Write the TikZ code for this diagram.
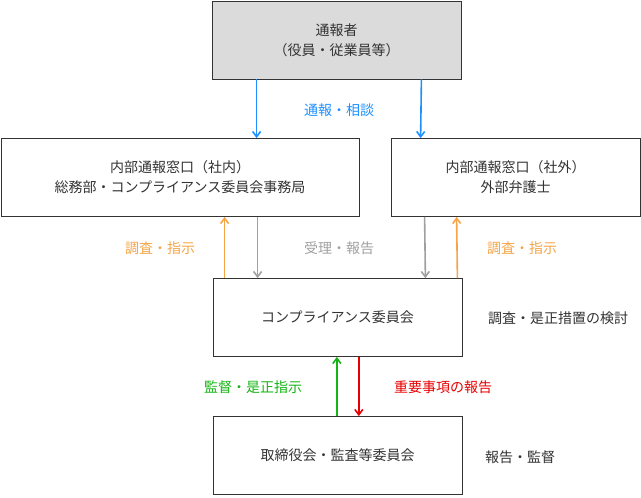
\documentclass[tikz,border=0pt]{standalone}
\usepackage{fontspec}
\setmainfont{Noto Sans CJK JP}
\usetikzlibrary{arrows.meta,positioning}
\definecolor{flowblue}{RGB}{30,144,255}
\definecolor{flowgray}{RGB}{160,160,160}
\definecolor{floworange}{RGB}{245,165,70}
\definecolor{flowgreen}{RGB}{20,180,20}
\definecolor{flowred}{RGB}{230,0,0}
\definecolor{textdark}{RGB}{51,51,51}
\begin{document}
\begin{tikzpicture}[
    x=0.75pt, y=-0.75pt,
    every node/.style={font=\fontsize{10.5}{15}\selectfont, text=textdark},
    box/.style={
        draw=textdark,
        fill=white,
        line width=0.6pt,
        minimum height=58.5pt,
        align=center,
        inner sep=0pt
    },
    flow/.style={
        -{Straight Barb[length=4pt,width=6pt]},
        line width=1.2pt,
        #1
    }
]
    \useasboundingbox (0,0) rectangle (641,497);

    % Boxes
    \node[box, fill=black!14, minimum width=186.75pt] (notifier) at (336.5,40) {通報者\\（役員・従業員等）};
    \node[box, minimum width=268.5pt] (inside) at (180,177.5) {内部通報窓口（社内）\\総務部・コンプライアンス委員会事務局};
    \node[box, minimum width=186.75pt] (outside) at (515.5,177.5) {内部通報窓口（社外）\\外部弁護士};
    \node[box, minimum width=186.75pt] (committee) at (337.5,317.5) {コンプライアンス委員会};
    \node[box, minimum width=186.75pt] (board) at (337.5,455.5) {取締役会・監査等委員会};

    % Reports to contact points
    \draw[flow=flowblue] ([xshift=33.75pt]notifier.south west) -- ([xshift=192pt]inside.north west);
    \draw[flow=flowblue] ([xshift=-30pt]notifier.south east) -- ([xshift=22.5pt]outside.north west);
    \node[text=flowblue] (consult) at (339,110) {通報・相談};

    % Contact points and committee
    \draw[flow=floworange] ([xshift=9pt]committee.north west) -- ([xshift=168pt]inside.south west);
    \draw[flow=flowgray] ([xshift=192.75pt]inside.south west) -- ([xshift=33.75pt]committee.north west);
    \draw[flow=flowgray] ([xshift=25.5pt]outside.south west) -- ([xshift=-27.75pt]committee.north east);
    \draw[flow=floworange] ([xshift=-3.75pt]committee.north east) -- ([xshift=49.5pt]outside.south west);
    \node[text=floworange] (orderL) at (160,248) {調査・指示};
    \node[text=flowgray] (accept) at (339,248) {受理・報告};
    \node[text=floworange] (orderR) at (522,248) {調査・指示};
    \node (review) at (558,318) {調査・是正措置の検討};

    % Committee and board
    \draw[flow=flowgreen] ([xshift=-0.5pt]board.north) -- ([xshift=-0.5pt]committee.south);
    \draw[flow=flowred] ([xshift=16pt]committee.south) -- ([xshift=16pt]board.north);
    \node[text=flowgreen] (supervise) at (253,387) {監督・是正指示};
    \node[text=flowred] (important) at (443,387) {重要事項の報告};
    \node (audit) at (520,457) {報告・監督};
\end{tikzpicture}
\end{document}
